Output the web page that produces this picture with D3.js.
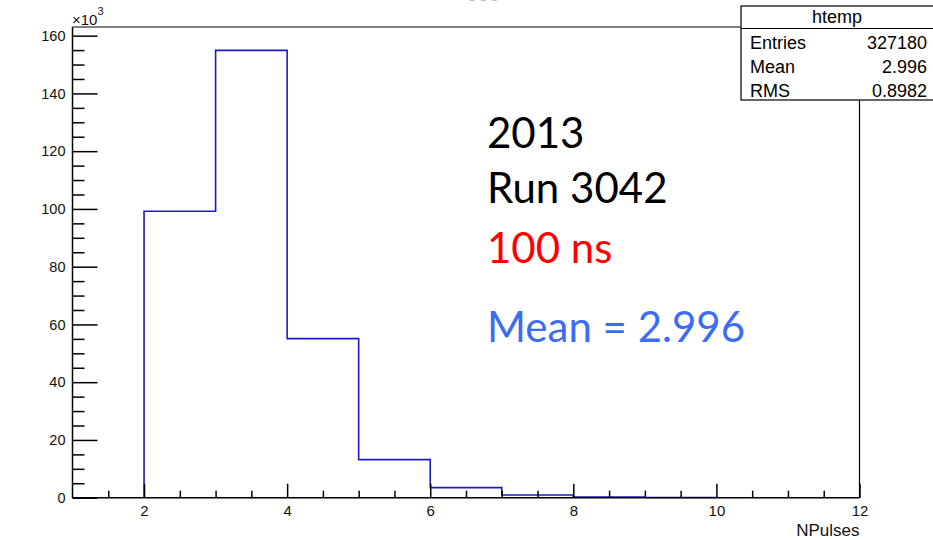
<!DOCTYPE html>
<html>
<head>
<meta charset="utf-8">
<script src="https://cdn.jsdelivr.net/npm/d3@7"></script>
<style>
  body { margin: 0; background: #fff; }
  svg { display: block; }
  .axis text { font-family: "Liberation Sans", Arial, sans-serif; fill: #111; }
</style>
</head>
<body>
<div id="content"></div>
<script>
// histogram bins: low edge and content (in units of 10^3)
var binEdges = [2, 3, 4, 5, 6, 7, 8, 9];
var binCounts = [99.2, 154.9, 55.1, 13.2, 3.5, 0.95, 0.25, 0.08];
var binWidth = 1;

var xMajorTicks = [2, 4, 6, 8, 10, 12];
var xMinorTicks = [1.5, 2.5, 3, 3.5, 4.5, 5, 5.5, 6.5, 7, 7.5, 8.5, 9, 9.5, 10.5, 11, 11.5];
var yMajorTicks = [0, 20, 40, 60, 80, 100, 120, 140, 160];
var yMinorTicks = d3.range(0, 165, 5).filter(function(v) { return v % 20 !== 0; });

var statsNames = ["Entries", "Mean", "RMS"];
var statsValues = ["327180", "2.996", "0.8982"];

var noteLines = ["2013", "Run 3042", "100 ns", "Mean = 2.996"];
var noteColors = ["#000000", "#000000", "#ff0000", "#3a6cf4"];

var width = 933, height = 540;
var frameLeft = 72.5, frameRight = 859.5, frameTop = 27, frameBottom = 497.7;

var svg = d3.select("#content").append("svg")
              .attr("width", width)
              .attr("height", height);

var x = d3.scaleLinear().domain([1, 12]).range([frameLeft, frameRight]);
var y = d3.scaleLinear().domain([0, 163]).range([frameBottom, frameTop]);

// partly hidden title at the very top
svg.append("text")
    .attr("x", 483).attr("y", 1)
    .attr("text-anchor", "middle")
    .attr("font-family", "Liberation Sans, Arial, sans-serif")
    .attr("font-size", 20)
    .attr("fill", "#bbb")
    .text("ooo");

// frame top and right
svg.append("line").attr("x1", frameLeft).attr("x2", 741).attr("y1", frameTop).attr("y2", frameTop)
    .attr("stroke", "#000").attr("stroke-width", 1.2);
svg.append("line").attr("x1", frameRight).attr("x2", frameRight).attr("y1", 100).attr("y2", frameBottom)
    .attr("stroke", "#000").attr("stroke-width", 1.2);

// histogram outline
var pts = [[x(binEdges[0]), y(0)]];
binEdges.forEach(function(e, i) {
  pts.push([x(e), y(binCounts[i])]);
  pts.push([x(e + binWidth), y(binCounts[i])]);
});
pts.push([x(binEdges[binEdges.length - 1] + binWidth), y(0)]);
svg.append("path")
    .attr("d", d3.line()(pts))
    .attr("fill", "none")
    .attr("stroke", "#1c1cc4")
    .attr("stroke-width", 1.6);

// x axis
var xMinor = svg.append("g").attr("class", "axis")
    .attr("transform", "translate(0," + frameBottom + ")")
    .call(d3.axisBottom(x).tickValues(xMinorTicks).tickSize(-7).tickFormat(""));
var xMajor = svg.append("g").attr("class", "axis")
    .attr("transform", "translate(0," + frameBottom + ")")
    .call(d3.axisBottom(x).tickValues(xMajorTicks).tickSize(-14).tickPadding(8).tickSizeOuter(0));
xMajor.attr("font-size", 15);

// y axis
var yMinor = svg.append("g").attr("class", "axis")
    .attr("transform", "translate(" + frameLeft + ",0)")
    .call(d3.axisLeft(y).tickValues(yMinorTicks).tickSize(-12).tickFormat(""));
var yMajor = svg.append("g").attr("class", "axis")
    .attr("transform", "translate(" + frameLeft + ",0)")
    .call(d3.axisLeft(y).tickValues(yMajorTicks).tickSize(-25).tickPadding(7).tickSizeOuter(0));
yMajor.attr("font-size", 14.5);

svg.selectAll(".axis path").attr("stroke", "#000").attr("stroke-width", 1.5);
svg.selectAll(".axis line").attr("stroke", "#000").attr("stroke-width", 1.5);
xMinor.select("path").remove();
yMinor.select("path").remove();
xMajor.select("path").attr("d", "M" + frameLeft + ",0H" + frameRight);
yMajor.select("path").attr("d", "M0," + frameBottom + "V" + frameTop);

// x10^3 exponent
var expo = svg.append("text")
    .attr("x", 72).attr("y", 25)
    .attr("font-family", "Liberation Sans, Arial, sans-serif")
    .attr("font-size", 15)
    .attr("fill", "#111");
expo.append("tspan").text("\u00d710");
expo.append("tspan").attr("dy", -10).attr("font-size", 11).text("3");

// x axis title
svg.append("text")
    .attr("x", frameRight).attr("y", 536)
    .attr("text-anchor", "end")
    .attr("font-family", "Liberation Sans, Arial, sans-serif")
    .attr("font-size", 17)
    .attr("fill", "#111")
    .text("NPulses");

// stats box
var box = svg.append("g");
box.append("rect")
    .attr("x", 741).attr("y", 6)
    .attr("width", 220).attr("height", 94)
    .attr("fill", "#fff").attr("stroke", "#000").attr("stroke-width", 1.2);
box.append("line").attr("x1", 741).attr("x2", 933).attr("y1", 28.5).attr("y2", 28.5)
    .attr("stroke", "#000").attr("stroke-width", 1.2);
box.append("text")
    .attr("x", 837).attr("y", 23)
    .attr("text-anchor", "middle")
    .attr("font-family", "Liberation Sans, Arial, sans-serif")
    .attr("font-size", 18)
    .text("htemp");
box.selectAll(".sname").data(statsNames).enter().append("text")
    .attr("class", "sname")
    .attr("x", 750)
    .attr("y", function(d, i) { return 49 + i * 24; })
    .attr("font-family", "Liberation Sans, Arial, sans-serif")
    .attr("font-size", 18)
    .text(function(d) { return d; });
box.selectAll(".svalue").data(statsValues).enter().append("text")
    .attr("class", "svalue")
    .attr("x", 927)
    .attr("y", function(d, i) { return 49 + i * 24; })
    .attr("text-anchor", "end")
    .attr("font-family", "Liberation Sans, Arial, sans-serif")
    .attr("font-size", 18)
    .text(function(d) { return d; });

// annotations
var noteY = [148, 203, 263, 342];
svg.selectAll(".note").data(noteLines).enter().append("text")
    .attr("class", "note")
    .attr("x", 487)
    .attr("y", function(d, i) { return noteY[i]; })
    .attr("font-family", "Lato, sans-serif")
    .attr("font-size", 42)
    .attr("fill", function(d, i) { return noteColors[i]; })
    .text(function(d) { return d; });
</script>
</body>
</html>
